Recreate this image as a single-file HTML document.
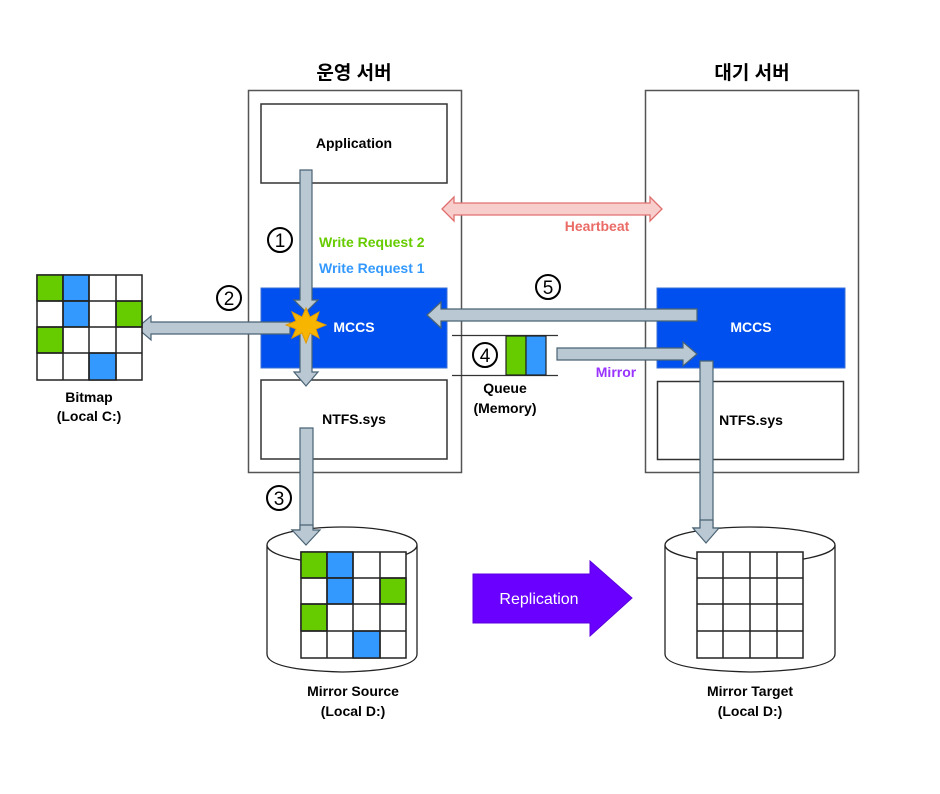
<!DOCTYPE html>
<html><head><meta charset="utf-8"><style>
html,body{margin:0;padding:0;background:#fff;}
svg{display:block;}
text{font-family:"Liberation Sans","Noto Sans CJK KR",sans-serif;font-weight:bold;}
text.n{font-weight:normal;}
</style></head><body>
<svg width="940" height="794" viewBox="0 0 940 794" xmlns="http://www.w3.org/2000/svg">
<rect width="940" height="794" fill="#fff"/>
<text x="354" y="79" font-size="19" text-anchor="middle" fill="#000">운영 서버</text>
<text x="752" y="79" font-size="19" text-anchor="middle" fill="#000">대기 서버</text>
<rect x="248.5" y="90.5" width="213" height="382" fill="#fff" stroke="#555" stroke-width="1.5"/>
<rect x="645.5" y="90.5" width="213" height="382" fill="#fff" stroke="#555" stroke-width="1.5"/>
<rect x="261" y="104" width="186" height="79" fill="#fff" stroke="#333" stroke-width="1.5"/>
<text x="354" y="148" font-size="14" text-anchor="middle">Application</text>
<rect x="261" y="288" width="186" height="80" fill="#0050ef" stroke="#3d6fd6" stroke-width="1"/>
<text x="354" y="332" font-size="14" text-anchor="middle" fill="#fff">MCCS</text>
<rect x="261" y="380" width="186" height="79" fill="#fff" stroke="#333" stroke-width="1.5"/>
<text x="354" y="424" font-size="14" text-anchor="middle">NTFS.sys</text>
<rect x="657" y="288" width="188" height="80" fill="#0050ef" stroke="#3d6fd6" stroke-width="1"/>
<text x="751" y="332" font-size="14" text-anchor="middle" fill="#fff">MCCS</text>
<rect x="657.5" y="381.5" width="186" height="78" fill="#fff" stroke="#333" stroke-width="1.5"/>
<text x="751" y="425" font-size="14" text-anchor="middle">NTFS.sys</text>

<polygon points="442,209 454,197 454,203 650,203 650,197 662,209 650,221 650,215 454,215 454,221" fill="#f8cecc" stroke="#e07070" stroke-width="1.3"/>
<text x="597" y="231" font-size="14" text-anchor="middle" fill="#ea6b66">Heartbeat</text>

<g fill="#bac8d3" stroke="#4a6374" stroke-width="1.2">
<polygon points="300,170 312,170 312,300 318,300 306,312 294,300 300,300"/>
<polygon points="300,330 312,330 312,372 318,372 306,386 294,372 300,372"/>
<polygon points="290,322 151,322 151,316 137,328 151,340 151,334 290,334"/>
<polygon points="300,428 313,428 313,530 320,530 306,545 292,530 300,530"/>
<polygon points="697,309 441,309 441,302 427,315 441,328 441,321 697,321"/>
<polygon points="557,348 683,348 683,342 697,354 683,366 683,360 557,360"/>
<polygon points="700,361 713,361 713,528 719,528 706,543 693,528 700,528"/>
</g>
<polygon points="306,308 310,317 319,312 316,321 326,325 316,329 319,338 310,333 306,343 302,333 292,338 296,329 286,325 296,321 292,312 302,317" fill="#f8b500" stroke="#e09a00" stroke-width="1"/>

<g fill="none" stroke="#000" stroke-width="2">
<circle cx="280" cy="240" r="12"/>
<circle cx="229" cy="298" r="12"/>
<circle cx="279" cy="498" r="12"/>
<circle cx="485" cy="355" r="12"/>
<circle cx="548" cy="287" r="12"/>
</g>
<g font-size="19" text-anchor="middle">
<text class="n" x="280" y="247">1</text>
<text class="n" x="229" y="305">2</text>
<text class="n" x="279" y="505">3</text>
<text class="n" x="485" y="362">4</text>
<text class="n" x="548" y="294">5</text>
</g>

<text x="319" y="247" font-size="14" fill="#66cc00">Write Request 2</text>
<text x="319" y="273" font-size="14" fill="#3399ff">Write Request 1</text>

<line x1="452" y1="335.5" x2="558" y2="335.5" stroke="#333" stroke-width="1.3"/>
<line x1="452" y1="375.5" x2="558" y2="375.5" stroke="#333" stroke-width="1.3"/>
<rect x="506" y="336" width="20" height="39" fill="#66cc00" stroke="#222" stroke-width="1.2"/>
<rect x="526" y="336" width="20" height="39" fill="#3399ff" stroke="#222" stroke-width="1.2"/>
<text x="505" y="393" font-size="14" text-anchor="middle">Queue</text>
<text x="505" y="413" font-size="14" text-anchor="middle">(Memory)</text>
<text x="616" y="377" font-size="14" text-anchor="middle" fill="#9933ff">Mirror</text>

<g stroke="#222" stroke-width="1.5">
<rect x="37" y="275" width="105" height="105" fill="#fff"/>
<rect x="37" y="275" width="26" height="26" fill="#66cc00"/>
<rect x="63" y="275" width="26" height="26" fill="#3399ff"/>
<rect x="63" y="301" width="26" height="26" fill="#3399ff"/>
<rect x="116" y="301" width="26" height="26" fill="#66cc00"/>
<rect x="37" y="327" width="26" height="26" fill="#66cc00"/>
<rect x="89" y="353" width="27" height="27" fill="#3399ff"/>
<path d="M63 275V380M89 275V380M116 275V380M37 301H142M37 327H142M37 353H142" fill="none"/>
</g>
<text x="89" y="402" font-size="14" text-anchor="middle">Bitmap</text>
<text x="89" y="421" font-size="14" text-anchor="middle">(Local C:)</text>

<g fill="#fff" stroke="#222" stroke-width="1.3">
<path d="M267 545 V654 Q267 670 342 672 Q417 670 417 654 V545"/>
<ellipse cx="342" cy="545" rx="75" ry="18"/>
<path d="M665 545 V654 Q665 670 750 672 Q835 670 835 654 V545"/>
<ellipse cx="750" cy="545" rx="85" ry="18"/>
</g>
<g fill="#bac8d3" stroke="#4a6374" stroke-width="1.2">
<polygon points="300,525 313,525 313,530 320,530 306,545 292,530 300,530"/>
<polygon points="700,520 713,520 713,528 719,528 706,543 693,528 700,528"/>
</g>
<g stroke="#222" stroke-width="1.5">
<rect x="301" y="552" width="105" height="106" fill="#fff"/>
<rect x="301" y="552" width="26" height="26" fill="#66cc00"/>
<rect x="327" y="552" width="26" height="26" fill="#3399ff"/>
<rect x="327" y="578" width="26" height="26" fill="#3399ff"/>
<rect x="380" y="578" width="26" height="26" fill="#66cc00"/>
<rect x="301" y="604" width="26" height="27" fill="#66cc00"/>
<rect x="353" y="631" width="27" height="27" fill="#3399ff"/>
<path d="M327 552V658M353 552V658M380 552V658M301 578H406M301 604H406M301 631H406" fill="none"/>
<rect x="697" y="552" width="106" height="106" fill="#fff"/>
<path d="M723 552V658M750 552V658M777 552V658M697 578H803M697 604H803M697 631H803" fill="none"/>
</g>
<text x="353" y="696" font-size="14" text-anchor="middle">Mirror Source</text>
<text x="353" y="716" font-size="14" text-anchor="middle">(Local D:)</text>
<text x="750" y="696" font-size="14" text-anchor="middle">Mirror Target</text>
<text x="750" y="716" font-size="14" text-anchor="middle">(Local D:)</text>

<polygon points="473,574 590,574 590,561 632,598 590,636 590,623 473,623" fill="#6a00ff" stroke="#5a00dd" stroke-width="1"/>
<text x="539" y="604" font-size="16" text-anchor="middle" fill="#fff" style="font-weight:normal">Replication</text>
</svg>
</body></html>
